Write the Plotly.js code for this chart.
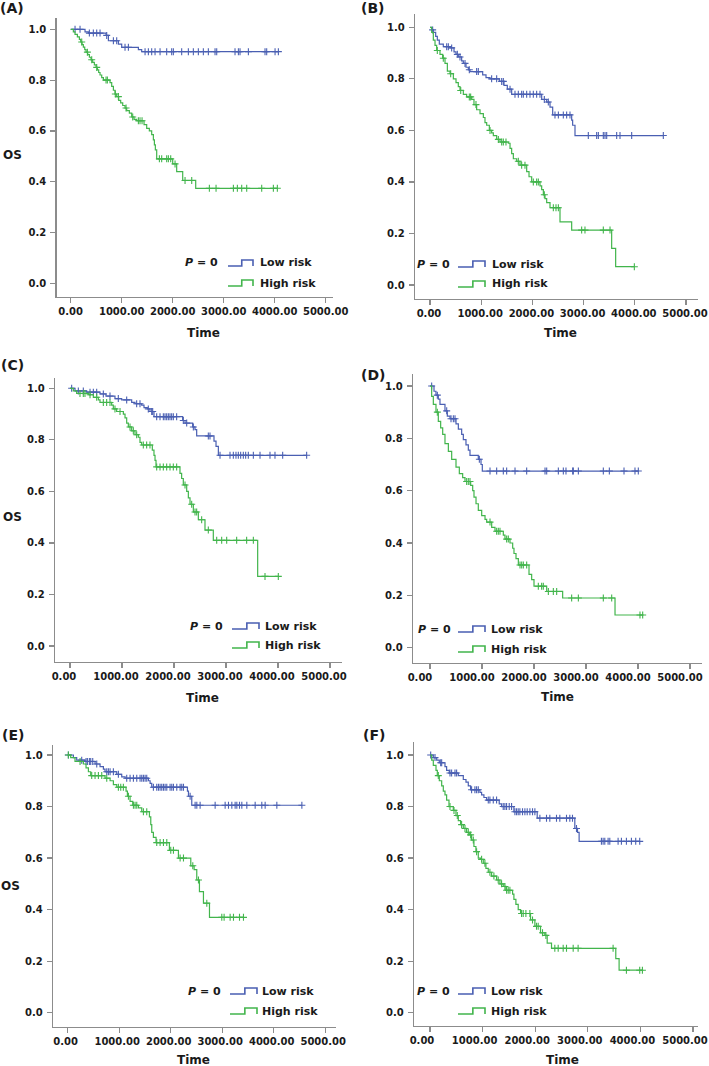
<!DOCTYPE html>
<html><head><meta charset="utf-8">
<script src="https://cdn.plot.ly/plotly-3.0.1.min.js"></script>
<style>html,body{margin:0;padding:0;background:#fff;} #chart{width:709px;height:1066px;}</style>
</head><body><div id="chart"></div>
<script>
// ---------------- DATA ----------------
const timeTicks = [0, 1000, 2000, 3000, 4000, 5000];
const survTicks = [0, 0.2, 0.4, 0.6, 0.8, 1.0];
const panelLabels = ['(A)', '(B)', '(C)', '(D)', '(E)', '(F)'];
const groupNames = ['Low risk', 'High risk'];
const pValueText = '<i>P</i> = 0';
const xTitle = 'Time';
const yTitle = 'OS';

// Panel A
const A_low_t = [281, 346, 693, 739, 935, 1000, 1327, 1392];
const A_low_s = [0.99, 0.985, 0.976, 0.955, 0.942, 0.929, 0.92, 0.912];
const A_low_c = [85, 183, 366, 444, 510, 575, 706, 837, 902, 1065, 1131, 1458, 1523, 1588, 1654, 1752, 1882, 1980, 2013, 2176, 2307, 2405, 2503, 2601, 2699, 2830, 2863, 3222, 3288, 3320, 3484, 3810, 3843, 4007, 4072];
const A_high_t = [52, 85, 131, 170, 196, 222, 248, 275, 301, 333, 366, 399, 431, 464, 497, 523, 549, 575, 608, 641, 771, 804, 837, 869, 902, 941, 980, 1020, 1065, 1098, 1150, 1196, 1242, 1294, 1438, 1490, 1542, 1588, 1621, 1641, 1660, 1686, 2000, 2078, 2196, 2451];
const A_high_s = [0.99, 0.98, 0.97, 0.96, 0.95, 0.94, 0.93, 0.92, 0.91, 0.90, 0.89, 0.88, 0.87, 0.86, 0.85, 0.84, 0.83, 0.82, 0.81, 0.80, 0.79, 0.775, 0.76, 0.745, 0.735, 0.72, 0.71, 0.70, 0.69, 0.68, 0.67, 0.655, 0.645, 0.64, 0.625, 0.61, 0.60, 0.585, 0.565, 0.545, 0.525, 0.49, 0.47, 0.44, 0.405, 0.374];
const A_high_c = [216, 327, 412, 510, 693, 719, 875, 935, 1085, 1216, 1327, 1359, 1399, 1739, 1784, 1882, 1915, 1961, 2046, 2242, 2373, 2719, 2850, 3190, 3268, 3353, 3451, 3745, 3974, 4052];

// Panel B
const B_low_t = [33, 65, 111, 143, 182, 260, 391, 469, 508, 553, 618, 651, 703, 749, 781, 1029, 1094, 1172, 1354, 1445, 1510, 1595, 2181, 2279, 2344, 2396, 2767, 2786, 2832];
const B_low_s = [0.99, 0.98, 0.965, 0.95, 0.935, 0.925, 0.92, 0.905, 0.895, 0.885, 0.87, 0.86, 0.845, 0.835, 0.828, 0.815, 0.805, 0.80, 0.79, 0.775, 0.76, 0.74, 0.72, 0.71, 0.69, 0.66, 0.64, 0.62, 0.58];
const B_low_c = [52, 326, 358, 423, 534, 586, 684, 768, 911, 944, 1204, 1302, 1400, 1432, 1563, 1660, 1725, 1790, 1823, 1888, 1953, 2018, 2083, 2148, 2233, 2311, 2441, 2507, 2604, 2669, 2734, 3092, 3255, 3288, 3385, 3418, 3451, 3646, 3711, 3939, 4557];
const B_high_t = [33, 65, 98, 130, 195, 247, 293, 339, 391, 456, 508, 553, 586, 651, 716, 814, 859, 911, 977, 1042, 1074, 1107, 1159, 1204, 1237, 1302, 1367, 1530, 1563, 1595, 1628, 1693, 1758, 1888, 1934, 1986, 2148, 2181, 2214, 2246, 2279, 2344, 2539, 2767, 3548, 3626];
const B_high_s = [0.98, 0.95, 0.93, 0.91, 0.895, 0.88, 0.86, 0.83, 0.82, 0.80, 0.785, 0.77, 0.755, 0.74, 0.73, 0.72, 0.70, 0.68, 0.665, 0.65, 0.63, 0.62, 0.60, 0.59, 0.58, 0.565, 0.555, 0.55, 0.53, 0.51, 0.49, 0.48, 0.465, 0.44, 0.42, 0.40, 0.385, 0.37, 0.35, 0.335, 0.32, 0.30, 0.245, 0.213, 0.142, 0.071];
const B_high_c = [143, 260, 404, 600, 768, 794, 898, 1172, 1335, 1400, 1432, 1484, 1725, 1790, 1855, 2018, 2083, 2116, 2233, 2409, 2461, 2507, 2962, 3027, 3385, 3516, 3991];

// Panel C
const C_low_t = [96, 321, 577, 692, 865, 994, 1186, 1250, 1378, 1423, 1487, 1538, 1615, 2167, 2212, 2359, 2404, 2436, 2769, 2808, 2853];
const C_low_s = [0.99, 0.985, 0.978, 0.97, 0.96, 0.955, 0.945, 0.94, 0.935, 0.925, 0.92, 0.91, 0.89, 0.875, 0.865, 0.85, 0.84, 0.815, 0.795, 0.775, 0.74];
const C_low_c = [32, 160, 256, 385, 449, 513, 641, 769, 929, 1090, 1282, 1346, 1506, 1571, 1590, 1667, 1731, 1795, 1827, 1859, 1891, 1923, 1955, 1987, 2051, 2179, 2244, 2372, 2660, 2692, 2885, 3077, 3141, 3192, 3237, 3282, 3333, 3378, 3429, 3526, 3654, 3846, 3942, 4090, 4551];
const C_high_t = [64, 128, 353, 449, 545, 577, 801, 833, 897, 1026, 1058, 1090, 1122, 1186, 1250, 1314, 1346, 1378, 1583, 1615, 1635, 1654, 2115, 2147, 2179, 2244, 2276, 2308, 2372, 2468, 2596, 2756, 3609];
const C_high_s = [0.99, 0.98, 0.975, 0.965, 0.955, 0.945, 0.935, 0.92, 0.91, 0.90, 0.885, 0.865, 0.85, 0.835, 0.82, 0.81, 0.79, 0.78, 0.76, 0.74, 0.72, 0.695, 0.67, 0.65, 0.625, 0.60, 0.575, 0.55, 0.52, 0.49, 0.45, 0.41, 0.27];
const C_high_c = [192, 256, 288, 385, 513, 641, 705, 769, 865, 962, 1154, 1218, 1282, 1410, 1474, 1538, 1667, 1731, 1795, 1859, 1923, 1987, 2051, 2212, 2340, 2404, 2436, 2532, 2660, 2821, 2917, 3013, 3205, 3397, 3526, 3750, 4006];

// Panel D
const D_low_t = [77, 115, 160, 192, 288, 333, 385, 500, 545, 609, 641, 692, 737, 769, 929, 981, 1006];
const D_low_s = [0.98, 0.965, 0.95, 0.93, 0.905, 0.885, 0.875, 0.855, 0.835, 0.815, 0.795, 0.775, 0.755, 0.735, 0.72, 0.70, 0.675];
const D_low_c = [32, 141, 321, 404, 449, 481, 949, 1154, 1282, 1410, 1474, 1635, 1859, 2212, 2244, 2468, 2564, 2615, 2744, 2756, 2853, 3333, 3449, 3731, 3942, 4006];
const D_high_t = [32, 64, 115, 160, 205, 244, 288, 353, 417, 500, 564, 628, 673, 782, 821, 846, 885, 929, 994, 1058, 1090, 1186, 1250, 1410, 1442, 1538, 1590, 1615, 1654, 1699, 1904, 1955, 2000, 2244, 2551, 3558];
const D_high_s = [0.96, 0.93, 0.90, 0.865, 0.84, 0.815, 0.78, 0.75, 0.72, 0.69, 0.665, 0.65, 0.635, 0.62, 0.60, 0.575, 0.55, 0.525, 0.505, 0.49, 0.48, 0.46, 0.445, 0.43, 0.415, 0.40, 0.38, 0.36, 0.34, 0.316, 0.28, 0.26, 0.235, 0.215, 0.19, 0.125];
const D_high_c = [141, 705, 737, 769, 1154, 1282, 1314, 1346, 1474, 1506, 1731, 1763, 1795, 1859, 2083, 2147, 2179, 2276, 2372, 2436, 2724, 2853, 3333, 3494, 4038, 4090];

// Panel E
const E_low_t = [110, 175, 337, 531, 628, 693, 725, 952, 1049, 1114, 1567, 1600, 1632, 2325, 2345, 2409];
const E_low_s = [0.99, 0.98, 0.975, 0.965, 0.955, 0.945, 0.935, 0.925, 0.915, 0.91, 0.90, 0.89, 0.875, 0.86, 0.84, 0.805];
const E_low_c = [13, 272, 356, 382, 421, 447, 486, 564, 758, 790, 823, 887, 984, 1146, 1211, 1276, 1341, 1405, 1438, 1470, 1503, 1535, 1664, 1729, 1762, 1794, 1826, 1859, 1891, 1924, 1988, 2021, 2053, 2118, 2183, 2215, 2248, 2377, 2474, 2507, 2571, 2863, 3057, 3122, 3187, 3251, 3284, 3336, 3381, 3478, 3640, 3769, 3834, 4061, 4547];
const E_high_t = [58, 142, 304, 356, 402, 447, 725, 823, 887, 952, 1133, 1159, 1211, 1263, 1373, 1438, 1587, 1613, 1632, 1664, 1716, 1975, 2150, 2390, 2455, 2506, 2558, 2636, 2753];
const E_high_s = [0.99, 0.975, 0.965, 0.95, 0.935, 0.92, 0.91, 0.90, 0.885, 0.875, 0.86, 0.84, 0.82, 0.805, 0.795, 0.78, 0.76, 0.73, 0.70, 0.68, 0.66, 0.63, 0.60, 0.57, 0.555, 0.515, 0.47, 0.425, 0.37];
const E_high_c = [13, 240, 466, 531, 596, 661, 758, 984, 1030, 1081, 1179, 1276, 1308, 1341, 1470, 1535, 1729, 1794, 1859, 1924, 2001, 2053, 2183, 2248, 2429, 2539, 2701, 2992, 3037, 3154, 3219, 3336, 3413];

// Panel F
const F_low_t = [63, 127, 177, 285, 316, 367, 538, 633, 684, 728, 772, 949, 981, 1025, 1076, 1316, 1361, 1595, 2038, 2753, 2804, 2835];
const F_low_s = [0.99, 0.98, 0.97, 0.955, 0.94, 0.93, 0.92, 0.905, 0.895, 0.88, 0.865, 0.855, 0.845, 0.835, 0.825, 0.81, 0.80, 0.78, 0.755, 0.715, 0.70, 0.665];
const F_low_c = [13, 95, 203, 222, 380, 411, 475, 506, 791, 854, 886, 918, 1108, 1139, 1203, 1266, 1392, 1424, 1456, 1506, 1551, 1614, 1646, 1677, 1709, 1759, 1804, 1848, 1899, 1949, 1994, 2089, 2215, 2278, 2405, 2468, 2595, 2658, 2709, 2785, 3259, 3291, 3323, 3386, 3418, 3576, 3639, 3734, 3829, 3911, 3987];
const F_high_t = [32, 63, 114, 139, 177, 222, 253, 285, 316, 361, 443, 494, 538, 582, 633, 696, 747, 791, 835, 873, 918, 962, 1013, 1063, 1108, 1171, 1266, 1329, 1392, 1443, 1570, 1595, 1633, 1677, 1722, 1911, 1994, 2101, 2184, 2228, 2310, 3532, 3595];
const F_high_s = [0.98, 0.96, 0.94, 0.92, 0.90, 0.88, 0.86, 0.845, 0.825, 0.80, 0.785, 0.765, 0.745, 0.73, 0.715, 0.70, 0.69, 0.67, 0.645, 0.625, 0.60, 0.595, 0.58, 0.56, 0.545, 0.53, 0.515, 0.50, 0.49, 0.475, 0.46, 0.44, 0.42, 0.40, 0.385, 0.36, 0.335, 0.31, 0.30, 0.27, 0.25, 0.21, 0.165];
const F_high_c = [158, 380, 456, 519, 601, 665, 728, 772, 823, 886, 981, 1044, 1139, 1215, 1297, 1361, 1424, 1456, 1487, 1519, 1741, 1772, 1823, 1899, 1949, 2025, 2057, 2139, 2203, 2373, 2437, 2532, 2595, 2722, 2816, 3481, 3734, 3987, 4038];

// ---------------- STYLE / LAYOUT GEOMETRY (pixels) ----------------
const W = 709, H = 1066;
const colLow = '#4a5fb2', colHigh = '#42b54c';
const axisCol = '#8c8c8c', textCol = '#1a1a1a';
const FONT = 'DejaVu Sans';

const panels = [
  {lab:[12,8],   low:[A_low_t,A_low_s,A_low_c], high:[A_high_t,A_high_s,A_high_c], xshift:0,
   g:{xl:56.5,xr:333,yt:18,yb:297,x0:70.7,kx:51.0,y0:283.3,ky:254}, time:[203,333], os:[12,155],
   leg:{pR:220,y1:263,iL:228,iR:253,tL:258,y2:283}},
  {lab:[373,8],  low:[B_low_t,B_low_s,B_low_c], high:[B_high_t,B_high_s,B_high_c], xshift:-1,
   g:{xl:415,xr:698,yt:14,yb:299,x0:430,kx:51.2,y0:285,ky:257.7}, time:[560,333], os:null,
   leg:{pR:452,y1:264,iL:458,iR:485,tL:490,y2:284}},
  {lab:[12,365], low:[C_low_t,C_low_s,C_low_c], high:[C_high_t,C_high_s,C_high_c], xshift:-6,
   g:{xl:55,xr:342,yt:378,yb:662,x0:70,kx:52,y0:646,ky:257.7}, time:[202,698], os:[12,517],
   leg:{pR:225,y1:626,iL:232,iR:259,tL:263,y2:645}},
  {lab:[373,375],low:[D_low_t,D_low_s,D_low_c], high:[D_high_t,D_high_s,D_high_c], xshift:-10,
   g:{xl:413,xr:702,yt:374,yb:663,x0:430,kx:52,y0:647.7,ky:261.7}, time:[557,697], os:null,
   leg:{pR:453,y1:629,iL:458,iR:485,tL:489,y2:649}},
  {lab:[13,735], low:[E_low_t,E_low_s,E_low_c], high:[E_high_t,E_high_s,E_high_c], xshift:-2,
   g:{xl:53,xr:336,yt:745,yb:1026.7,x0:67.7,kx:51.5,y0:1012.7,ky:257.7}, time:[193,1060], os:[10,886],
   leg:{pR:223,y1:991,iL:230,iR:257,tL:260,y2:1011}},
  {lab:[374,735],low:[F_low_t,F_low_s,F_low_c], high:[F_high_t,F_high_s,F_high_c], xshift:-8,
   g:{xl:414,xr:698,yt:742,yb:1026,x0:430,kx:52.6,y0:1012.7,ky:257.7}, time:[562,1060], os:null,
   leg:{pR:452,y1:991,iL:458,iR:485,tL:489,y2:1011}}
];

const px = v => v / W;
const py = v => 1 - v / H;

function kmLine(t, s, c) {
  const end = Math.max(t[t.length - 1], ...c);
  return {x: [0, ...t, end], y: [1, ...s, s[s.length - 1]]};
}
function survAt(t, s, time) {
  let v = 1;
  for (let i = 0; i < t.length; i++) { if (t[i] <= time) v = s[i]; }
  return v;
}

const traces = [], annotations = [], shapes = [];
const layout = {
  width: W, height: H, margin: {l:0, r:0, t:0, b:0},
  paper_bgcolor: '#fff', plot_bgcolor: 'rgba(0,0,0,0)',
  showlegend: false, font: {family: FONT, color: textCol}
};

panels.forEach((p, i) => {
  const n = i + 1, sx = n === 1 ? '' : String(n);
  const g = p.g;
  const xr = [(g.xl - g.x0) / g.kx * 1000, (g.xr - g.x0) / g.kx * 1000];
  const yr = [(g.y0 - g.yb) / g.ky, (g.y0 - g.yt) / g.ky];
  const common = {
    showline: true, linecolor: axisCol, linewidth: 1.2, ticks: 'outside', ticklen: 5,
    tickcolor: axisCol, tickwidth: 1.2, showgrid: false, zeroline: false, fixedrange: true,
    ticklabeloverflow: 'allow',
    tickfont: {family: FONT, size: 10, color: textCol, weight: 'bold'}
  };
  layout['xaxis' + sx] = Object.assign({}, common, {
    domain: [px(g.xl), px(g.xr)], range: xr, anchor: 'y' + sx,
    tickvals: timeTicks, tickformat: '.2f', ticklabelshift: p.xshift
  });
  layout['yaxis' + sx] = Object.assign({}, common, {
    domain: [py(g.yb), py(g.yt)], range: yr, anchor: 'x' + sx,
    tickvals: survTicks, tickformat: '.1f', ticklabelstandoff: 2
  });

  [[p.low, colLow], [p.high, colHigh]].forEach(([d, col]) => {
    const [t, s, c] = d;
    const L = kmLine(t, s, c);
    traces.push({type: 'scatter', mode: 'lines', x: L.x, y: L.y, xaxis: 'x' + sx, yaxis: 'y' + sx,
      line: {shape: 'hv', color: col, width: 1.2}, hoverinfo: 'skip'});
    traces.push({type: 'scatter', mode: 'markers', x: c, y: c.map(v => survAt(t, s, v)),
      xaxis: 'x' + sx, yaxis: 'y' + sx,
      marker: {symbol: 'cross-thin', size: 5, color: col, line: {color: col, width: 1.1}}, hoverinfo: 'skip'});
  });

  annotations.push({xref:'paper', yref:'paper', x:px(p.lab[0]), y:py(p.lab[1]), text:panelLabels[i],
    showarrow:false, xanchor:'center', yanchor:'middle', font:{family:FONT, size:14, color:textCol, weight:'bold'}});
  annotations.push({xref:'paper', yref:'paper', x:px(p.time[0]), y:py(p.time[1]), text:xTitle,
    showarrow:false, xanchor:'center', yanchor:'middle', font:{family:FONT, size:12, color:textCol, weight:'bold'}});
  if (p.os) annotations.push({xref:'paper', yref:'paper', x:px(p.os[0]), y:py(p.os[1]), text:yTitle,
    showarrow:false, xanchor:'center', yanchor:'middle', font:{family:FONT, size:12, color:textCol, weight:'bold'}});
  const lg = p.leg;
  annotations.push({xref:'paper', yref:'paper', x:px(lg.pR), y:py(lg.y1), text:pValueText,
    showarrow:false, xanchor:'right', yanchor:'middle', font:{family:FONT, size:11, color:textCol, weight:'bold'}});
  [[lg.y1, colLow, groupNames[0]], [lg.y2, colHigh, groupNames[1]]].forEach(([yy, col, name]) => {
    const xm = lg.iL + (lg.iR - lg.iL) * 0.55;
    const path = `M ${px(lg.iL)} ${py(yy + 3)} H ${px(xm)} V ${py(yy - 3)} H ${px(lg.iR)} V ${py(yy + 3)}`;
    shapes.push({type:'path', xref:'paper', yref:'paper', path: path, line:{color: col, width: 1.6}});
    annotations.push({xref:'paper', yref:'paper', x:px(lg.tL), y:py(yy), text:name,
      showarrow:false, xanchor:'left', yanchor:'middle', font:{family:FONT, size:11, color:textCol, weight:'bold'}});
  });
});

layout.annotations = annotations;
layout.shapes = shapes;
Plotly.newPlot('chart', traces, layout, {displayModeBar: false, staticPlot: true});
</script>
</body></html>
